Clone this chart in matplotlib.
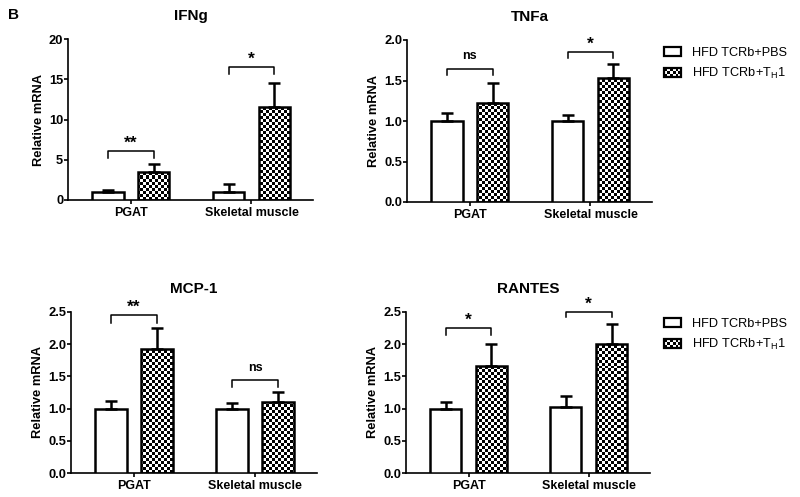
import numpy as np
import matplotlib
matplotlib.use("Agg")
import matplotlib.pyplot as plt
from matplotlib.patches import Rectangle, Patch
from matplotlib.legend_handler import HandlerBase

plt.rcParams['font.family'] = ['Liberation Sans', 'DejaVu Sans']

# ---------------- data ----------------
categories = ["PGAT", "Skeletal muscle"]
series_labels = ["HFD TCRb+PBS", "HFD TCRb+T$_\\mathregular{H}$1"]

titles = ["IFNg", "TNFa", "MCP-1", "RANTES"]

pbs_mean = {"IFNg": [1.0, 1.0], "TNFa": [1.0, 1.0], "MCP-1": [1.0, 1.0], "RANTES": [1.0, 1.02]}
pbs_sem = {"IFNg": [0.3, 1.0], "TNFa": [0.1, 0.08], "MCP-1": [0.12, 0.08], "RANTES": [0.1, 0.17]}
th1_mean = {"IFNg": [3.5, 11.5], "TNFa": [1.22, 1.53], "MCP-1": [1.92, 1.11], "RANTES": [1.66, 2.0]}
th1_sem = {"IFNg": [1.0, 3.0], "TNFa": [0.25, 0.17], "MCP-1": [0.33, 0.15], "RANTES": [0.35, 0.32]}

y_max = {"IFNg": 20, "TNFa": 2.0, "MCP-1": 2.5, "RANTES": 2.5}
y_ticks = {"IFNg": [0, 5, 10, 15, 20],
           "TNFa": [0.0, 0.5, 1.0, 1.5, 2.0],
           "MCP-1": [0.0, 0.5, 1.0, 1.5, 2.0, 2.5],
           "RANTES": [0.0, 0.5, 1.0, 1.5, 2.0, 2.5]}
y_tick_labels = {"IFNg": ["0", "5", "10", "15", "20"],
                 "TNFa": ["0.0", "0.5", "1.0", "1.5", "2.0"],
                 "MCP-1": ["0.0", "0.5", "1.0", "1.5", "2.0", "2.5"],
                 "RANTES": ["0.0", "0.5", "1.0", "1.5", "2.0", "2.5"]}

# significance: (bracket top, leg bottom, label) per category
sig = {"IFNg": [(6.1, 5.2, "**"), (16.5, 15.6, "*")],
       "TNFa": [(1.64, 1.57, "ns"), (1.85, 1.78, "*")],
       "MCP-1": [(2.45, 2.33, "**"), (1.44, 1.34, "ns")],
       "RANTES": [(2.25, 2.14, "*"), (2.50, 2.42, "*")]}

# ---------------- layout ----------------
W, H = 800, 497
fig = plt.figure(figsize=(W / 100, H / 100), dpi=100)

axes_px = {"IFNg": (68, 39, 313, 200),
           "TNFa": (407, 40, 652, 202),
           "MCP-1": (71, 312, 317, 473),
           "RANTES": (406, 312, 650, 473)}

offset = 0.19
bw = 0.26
cell = 3  # checker cell size in px


class CheckerHandler(HandlerBase):
    def create_artists(self, legend, orig_handle, xdescent, ydescent,
                       width, height, fontsize, trans):
        arts = []
        nx, ny = 6, 3
        cw, ch = width / nx, height / ny
        x0, y0 = -xdescent, -ydescent
        arts.append(Rectangle((x0, y0), width, height, fc='white', ec='none',
                              transform=trans))
        for i in range(nx):
            for j in range(ny):
                if (i + j) % 2 == 0:
                    arts.append(Rectangle((x0 + i * cw, y0 + j * ch), cw, ch,
                                          fc='black', ec='none', transform=trans))
        arts.append(Rectangle((x0, y0), width, height, fc='none', ec='black',
                              lw=1.6, transform=trans))
        return arts


x = np.arange(len(categories))

for name in titles:
    l, t, r, b = axes_px[name]
    ax = fig.add_axes([l / W, 1 - b / H, (r - l) / W, (b - t) / H])
    xlim = (-0.52, 1.51)
    ylim = (0, y_max[name])

    # PBS bars (white)
    ax.bar(x - offset, pbs_mean[name], bw, facecolor='white', edgecolor='black',
           linewidth=1.8, zorder=3)
    # TH1 bars: white base used as clip, checker image, outline
    base = ax.bar(x + offset, th1_mean[name], bw, facecolor='white', edgecolor='none',
                  zorder=2)
    nxc = int(round((r - l) / cell))
    nyc = int(round((b - t) / cell))
    checker = (np.indices((nyc, nxc)).sum(axis=0) % 2).astype(float)
    for p in base.patches:
        im = ax.imshow(checker, cmap='gray_r', vmin=0, vmax=1, extent=(*xlim, *ylim),
                       origin='lower', aspect='auto', interpolation='nearest', zorder=2.5)
        im.set_clip_path(p)
    ax.bar(x + offset, th1_mean[name], bw, facecolor='none', edgecolor='black',
           linewidth=1.8, zorder=3)

    # error bars (upper only)
    ax.errorbar(x - offset, pbs_mean[name], yerr=[np.zeros(2), pbs_sem[name]],
                fmt='none', ecolor='black', elinewidth=1.8, capsize=4.6, capthick=1.8,
                zorder=4)
    ax.errorbar(x + offset, th1_mean[name], yerr=[np.zeros(2), th1_sem[name]],
                fmt='none', ecolor='black', elinewidth=1.8, capsize=4.6, capthick=1.8,
                zorder=4)

    # significance brackets
    for i, (top, leg, lab) in enumerate(sig[name]):
        x1, x2 = x[i] - offset, x[i] + offset
        ax.plot([x1, x1, x2, x2], [leg, top, top, leg], color='black', lw=1.1,
                clip_on=False, zorder=5)
        if '*' in lab:
            dy, fs = 2.5, 12.5
        else:
            dy, fs = 7.0, 9
        ax.annotate(lab, (x[i], top), xytext=(0, dy), textcoords='offset points',
                    ha='center', va='baseline', fontsize=fs, fontweight='bold',
                    annotation_clip=False)

    ax.set_xlim(*xlim)
    ax.set_ylim(*ylim)
    ax.set_xticks(x)
    ax.set_xticklabels(categories, fontsize=9, fontweight='bold')
    ax.set_yticks(y_ticks[name])
    ax.set_yticklabels(y_tick_labels[name], fontsize=9.3, fontweight='bold')
    ax.set_ylabel("Relative mRNA", fontsize=9.3, fontweight='bold', labelpad=3)
    ax.set_title(name, fontsize=11, fontweight='bold', pad=14)
    for s in ['top', 'right']:
        ax.spines[s].set_visible(False)
    for s in ['left', 'bottom']:
        ax.spines[s].set_linewidth(1.2)
    ax.tick_params(axis='y', direction='out', length=3, width=1.2, pad=0.5)
    ax.tick_params(axis='x', direction='out', length=3, width=1.2, pad=2)

    if name in ("TNFa", "RANTES"):
        leg_y = 47 if name == "TNFa" else 318
        h_white = Patch(facecolor='white', edgecolor='black', linewidth=1.6)
        h_check = Patch(facecolor='black')
        fig.legend([h_white, h_check], series_labels, loc='upper left',
                   bbox_to_anchor=(664 / W, 1 - leg_y / H), frameon=False,
                   fontsize=9.2, handlelength=1.35, handleheight=0.7,
                   handletextpad=0.85, labelspacing=0.55, borderpad=0,
                   borderaxespad=0, handler_map={h_check: CheckerHandler()})

fig.text(8 / W, 1 - 15 / H, "B", fontsize=11, fontweight='bold', va='center', ha='left')

fig.savefig("out.png", dpi=100)
